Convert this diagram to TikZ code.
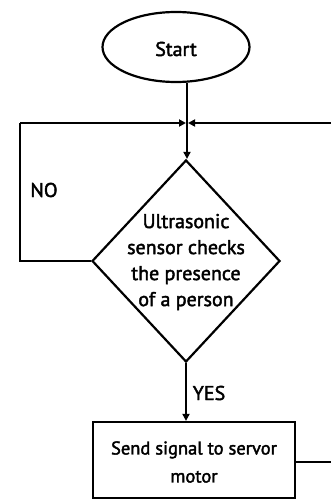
\documentclass[tikz,border=0pt]{standalone}
\usepackage{fontspec}
\setmainfont{PT Sans}
\newfontfamily\medfont{PT Sans}[FakeBold=2]
\usetikzlibrary{arrows.meta,shapes.geometric}
\begin{document}
\begin{tikzpicture}[x=1pt,y=-1pt,
  line/.style={line width=2.2pt},
  arr/.style={line width=2.2pt,-{Triangle[length=7pt,width=7pt]}},
  txt/.style={font=\medfont\fontsize{20}{26}\selectfont,align=center,inner sep=0pt}]
\useasboundingbox (0,0) rectangle (331,500);
\clip (0,0) rectangle (331,500);
\fill[white] (0,0) rectangle (331,500);
\node[draw,line width=2.2pt,ellipse,minimum width=147pt,minimum height=70pt,inner sep=0pt] (start) at (176,47) {};
\node[txt] (starttxt) at (176,49) {Start};
\coordinate (j) at (187,123);
\coordinate (lt) at (20,123);
\coordinate (lb) at (20,261);
\coordinate (rt) at (345,123);
\coordinate (rb) at (345,462);
\node[draw,line width=2.2pt,diamond,minimum width=188pt,minimum height=202pt,inner sep=0pt] (dec) at (186,261) {};
\node[txt] (dectxt) at (186,262) {Ultrasonic\\sensor checks\\the presence\\of a person};
\node[draw,line width=2.2pt,minimum width=202pt,minimum height=76pt,inner sep=0pt] (box) at (194,460) {};
\node[txt,font=\medfont\fontsize{18.5}{28}\selectfont] (boxtxt) at (194,462) {Send signal to servor\\motor};
\node[txt] (no) at (44,190) {NO};
\node[txt] (yes) at (209,393) {YES};
\draw[line] (start.south -| j) -- (j);
\draw[arr] (j) -- (dec.north -| j);
\draw[line] (dec.west) -- (lb) -- (lt);
\draw[arr] (lt) -- ([xshift=-1pt]j);
\draw[line] (box.east |- rb) -- (rb) -- (rt);
\draw[arr] (rt) -- ([xshift=1pt]j);
\draw[arr] (dec.south) -- (box.north -| dec.south);
\end{tikzpicture}
\end{document}
